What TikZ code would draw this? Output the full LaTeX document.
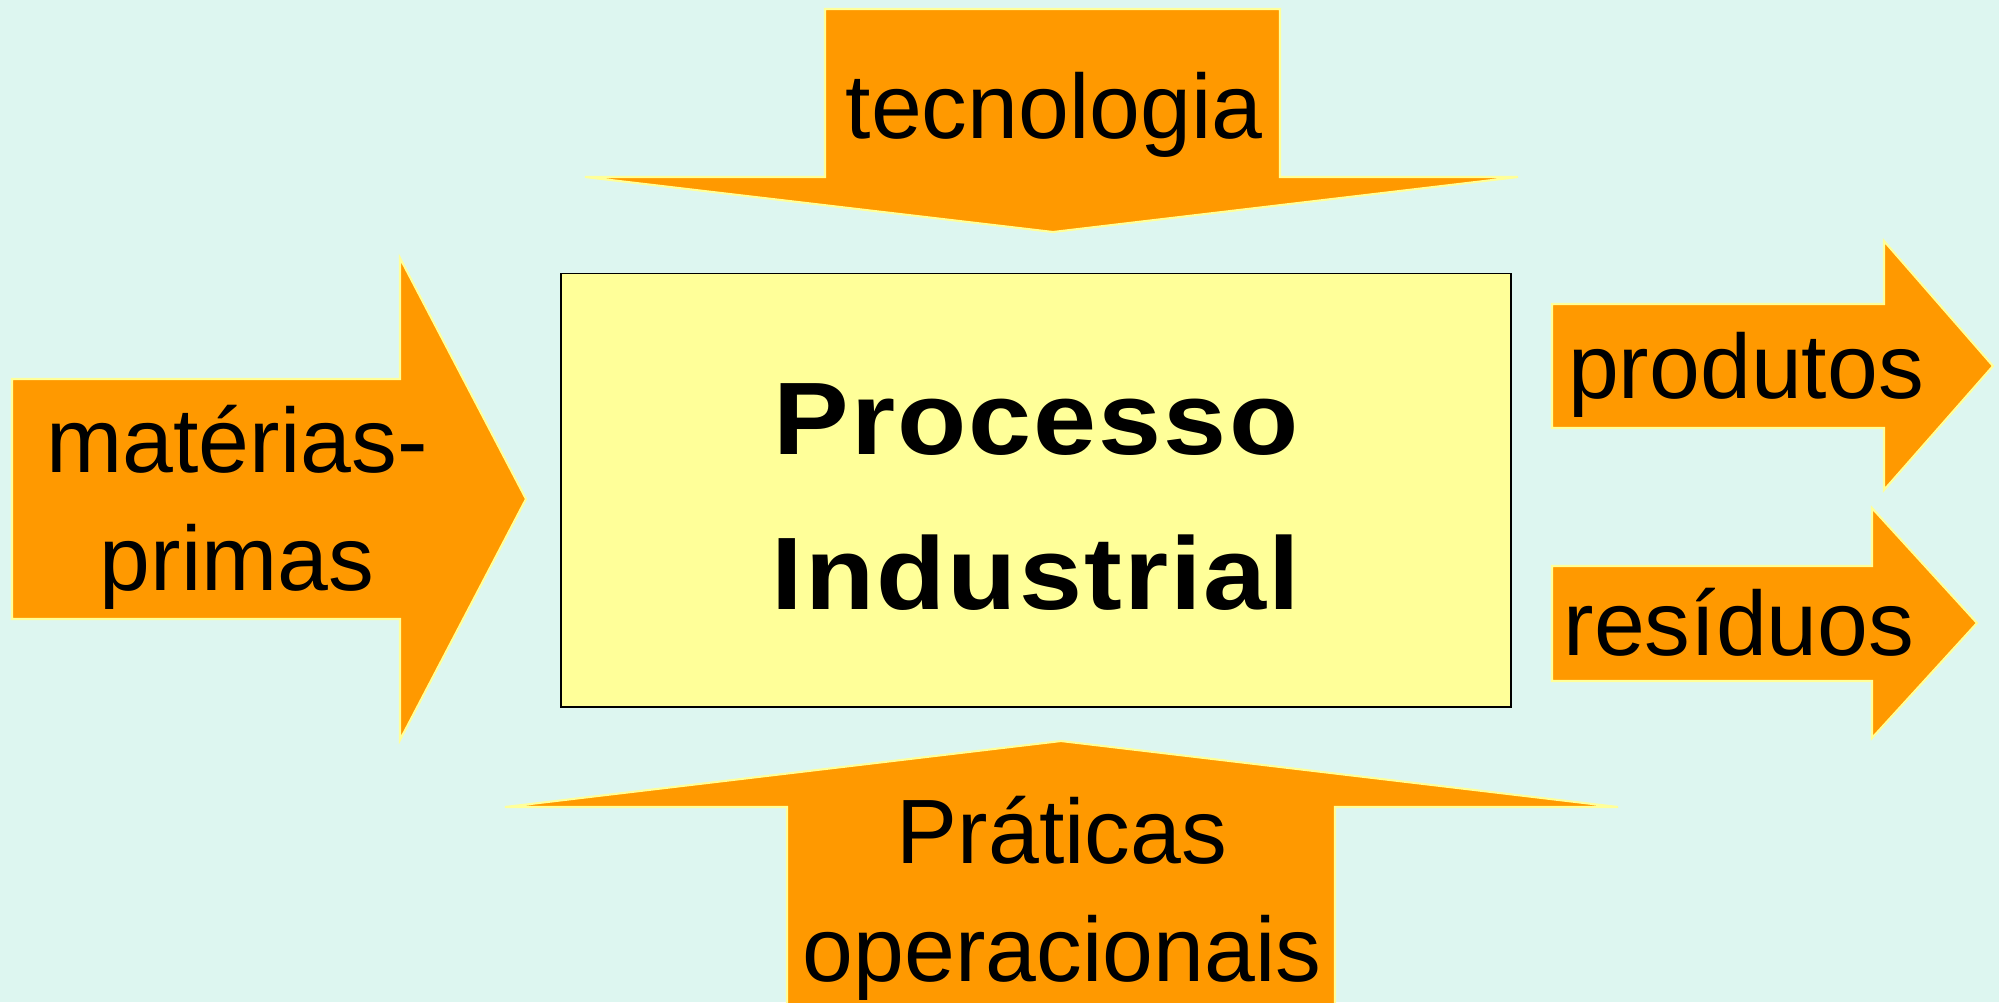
\documentclass[tikz,border=0pt]{standalone}
\usepackage{fontspec}
\setmainfont{Liberation Sans}
\definecolor{bgcyan}{RGB}{221,246,240}
\definecolor{arroworange}{RGB}{255,153,0}
\definecolor{boxyellow}{RGB}{255,255,153}
\tikzset{arrow style/.style={
		fill=arroworange,
		draw=boxyellow,
		line width=0.6pt,
		line join=miter,
	},
	label style/.style={
		text=black,
		font=\fontsize{26}{33.5}\selectfont,
		align=center,
		inner sep=0pt,
	},
	process style/.style={
		draw=black,
		line width=0.5pt,
		fill=boxyellow,
		rectangle,
		minimum width=9.5cm,
		minimum height=4.33cm,
	},
	process text/.style={
		text=black,
		font=\bfseries\fontsize{29.3}{44.3}\selectfont\addfontfeature{FakeStretch=1.1,LetterSpace=2},
		align=center,
	}
}
\begin{document}
\begin{tikzpicture}[x=0.01cm,y=-0.01cm]
	\fill[bgcyan] (0,0) rectangle (1999,1002);
	\useasboundingbox (0,0) rectangle (1999,1002);
	\clip (0,0) rectangle (1999,1002);
	
	% input arrows
	\draw[arrow style] (825,9) -- (1280,9) -- (1280,177) -- (1518,177) -- (1053,232) -- (585,177) -- (825,177) -- cycle;
	\draw[arrow style] (12,379) -- (400,379) -- (400,258) -- (526,499) -- (400,740) -- (400,619) -- (12,619) -- cycle;
	\draw[arrow style] (787,1010) -- (787,807) -- (505,807) -- (1061,741) -- (1618,807) -- (1335,807) -- (1335,1010) -- cycle;
	
	% output arrows
	\draw[arrow style] (1552,304) -- (1884,304) -- (1884,241) -- (1993,366) -- (1884,490) -- (1884,428) -- (1552,428) -- cycle;
	\draw[arrow style] (1552,566) -- (1872,566) -- (1872,508) -- (1977,623) -- (1872,738) -- (1872,681) -- (1552,681) -- cycle;
	
	\node[process style] (Processo) at (1036,490) {};
	\node[process text] (ProcessoText) at (1036,497) {Processo\\Industrial};
	
	\node[label style, anchor=base] (Tecnologia) at (1054,138) {tecnologia};
	\node[label style] (Materias) at (237,507) {matérias-\\primas};
	\node[label style] (Praticas) at (1062,898) {Práticas\\operacionais};
	\node[label style, anchor=base] (Produtos) at (1746,398) {produtos};
	\node[label style, anchor=base] (Residuos) at (1739,655) {resíduos};
\end{tikzpicture}
\end{document}
